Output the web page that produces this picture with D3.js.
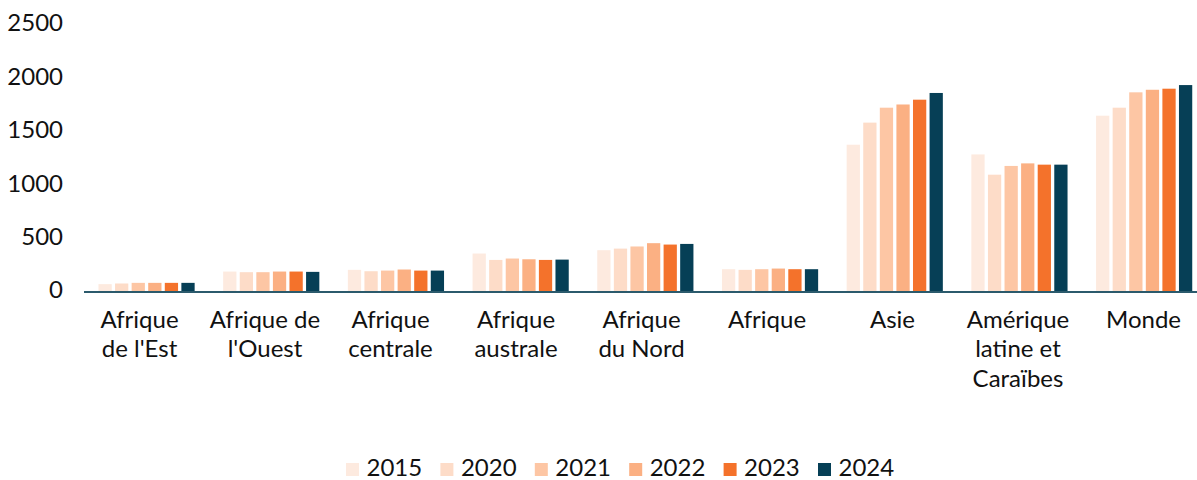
<!DOCTYPE html>
<html><head><meta charset="utf-8">
<script src="https://cdn.jsdelivr.net/npm/d3@7"></script>
<style>body{margin:0;background:#fff}svg{display:block}text{font-family:Lato,"Noto Sans",sans-serif}</style>
</head><body>
<svg id="c" width="1197" height="480"></svg>
<script>
const categories = [["Afrique","de l'Est"],["Afrique de","l'Ouest"],["Afrique","centrale"],["Afrique","australe"],["Afrique","du Nord"],["Afrique"],["Asie"],["Amérique","latine et","Caraïbes"],["Monde"]];
const years = ["2015","2020","2021","2022","2023","2024"];
const v2015 = [69,187,203,356,387,209,1376,1285,1648];
const v2020 = [75,181,190,296,402,203,1583,1095,1723];
const v2021 = [81,181,196,309,422,209,1723,1177,1867];
const v2022 = [81,187,206,302,453,215,1753,1201,1891];
const v2023 = [81,187,196,296,440,209,1798,1189,1901];
const v2024 = [81,184,196,299,446,209,1861,1189,1935];
const colors = ["#fdeadf","#fddcc8","#fdc6a4","#fbb083","#f4722b","#063f56"];
const yTicks = [0,500,1000,1500,2000,2500];

const series = [v2015,v2020,v2021,v2022,v2023,v2024];
const svg = d3.select("#c");
const x = d3.scaleBand().domain(d3.range(categories.length)).range([84.2,1206.5]);
const xl = d3.scaleBand().domain(d3.range(categories.length)).range([76.75,1206.25]);
const xi = d3.scaleBand().domain(years).range([0,x.bandwidth()]).paddingInner(0.2).paddingOuter(0.86);
const y = d3.scaleLinear().domain([0,2500]).range([291.5,24.8]);

// y axis labels
const ya = svg.append("g").attr("transform","translate(63,-1.5)")
  .call(d3.axisLeft(y).tickValues(yTicks).tickFormat(d3.format("d")).tickSize(0).tickPadding(0));
ya.select(".domain").remove();
ya.selectAll("text").attr("font-family","Lato").attr("font-size",24).attr("fill","#111");

// bars
series.forEach((s,si)=>{
  svg.append("g").selectAll("rect").data(s).join("rect")
    .attr("x",(d,i)=>x(i)+xi(years[si]))
    .attr("width",xi.bandwidth())
    .attr("y",d=>y(d))
    .attr("height",d=>y(0)-y(d))
    .attr("fill",colors[si]);
});

// baseline
svg.append("line").attr("x1",84).attr("x2",1197).attr("y1",y(0)+0.5).attr("y2",y(0)+0.5)
  .attr("stroke","#2b5a6c").attr("stroke-width",2);

// category labels
const cl = svg.append("g");
categories.forEach((lines,i)=>{
  const cx = xl(i)+xl.bandwidth()/2;
  const t = cl.append("text").attr("x",cx).attr("y",328)
    .attr("text-anchor","middle").attr("font-size",24).attr("fill","#111");
  lines.forEach((ln,j)=>t.append("tspan").attr("x",cx).attr("y",328+j*29.3).text(ln));
});

// legend
const lg = svg.append("g");
const lx = d3.scalePoint().domain(years).range([346,818]);
years.forEach((yr,i)=>{
  lg.append("rect").attr("x",lx(yr)).attr("y",463).attr("width",13).attr("height",13).attr("fill",colors[i]);
  lg.append("text").attr("x",lx(yr)+20.5).attr("y",476).attr("font-size",24).attr("fill","#111").text(yr);
});
</script>
</body></html>
